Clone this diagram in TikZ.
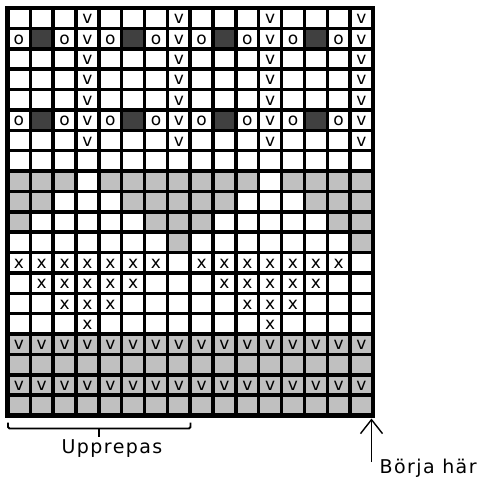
\documentclass[tikz,border=0pt]{standalone}
\usepackage{fontspec}
\setmainfont{DejaVu Sans}
\usetikzlibrary{arrows.meta}
\definecolor{lightg}{HTML}{C0C0C0}
\definecolor{darkg}{HTML}{404040}
\expandafter\def\csname ct-e\endcsname{}
\expandafter\def\csname ct-v\endcsname{v}
\expandafter\def\csname ct-o\endcsname{o}
\expandafter\def\csname ct-x\endcsname{x}
\expandafter\def\csname ct-d\endcsname{}
\expandafter\def\csname ct-g\endcsname{}
\expandafter\def\csname ct-gv\endcsname{v}
\tikzset{
  cell/.style={minimum width=22.84pt, minimum height=20.375pt, inner sep=0pt,
    font=\fontsize{17}{17}\selectfont, draw=none},
  k-e/.style={fill=white}, k-v/.style={fill=white}, k-o/.style={fill=white},
  k-x/.style={fill=white}, k-d/.style={fill=darkg}, k-g/.style={fill=lightg},
  k-gv/.style={fill=lightg},
  gridline/.style={line width=3.5pt, black},
  outerline/.style={line width=4.5pt, black},
  bracket/.style={line width=1.8pt, rounded corners=1.5pt},
  label/.style={font=\fontsize{19}{19}\selectfont\addfontfeature{LetterSpace=7.5}, inner sep=0pt},
  startarrow/.style={line width=1.4pt, -{Straight Barb[length=14pt,width=22pt,line width=1.4pt]}}
}
\begin{document}
\begin{tikzpicture}[x=1pt,y=-1pt]
\useasboundingbox (0,0) rectangle (482,479);
\begin{scope}[shift={(7.5,8)}, x=22.84pt, y=-20.375pt]
  \foreach \r/\row in {
    1/{e,e,e,v,e,e,e,v},
    2/{o,d,o,v,o,d,o,v},
    3/{e,e,e,v,e,e,e,v},
    4/{e,e,e,v,e,e,e,v},
    5/{e,e,e,v,e,e,e,v},
    6/{o,d,o,v,o,d,o,v},
    7/{e,e,e,v,e,e,e,v},
    8/{e,e,e,e,e,e,e,e},
    9/{g,g,g,e,g,g,g,g},
    10/{g,g,e,e,e,g,g,g},
    11/{g,e,e,e,e,e,g,g},
    12/{e,e,e,e,e,e,e,g},
    13/{x,x,x,x,x,x,x,e},
    14/{e,x,x,x,x,x,e,e},
    15/{e,e,x,x,x,e,e,e},
    16/{e,e,e,x,e,e,e,e},
    17/{gv,gv,gv,gv,gv,gv,gv,gv},
    18/{g,g,g,g,g,g,g,g},
    19/{gv,gv,gv,gv,gv,gv,gv,gv},
    20/{g,g,g,g,g,g,g,g}} {
    \foreach \s [count=\c] in \row {
      \foreach \h in {0,8} {
        \pgfmathtruncatemacro\cc{\c+\h}
        \node[cell, k-\s] (n\r-\cc) at (\cc-0.5,\r-0.45) {\csname ct-\s\endcsname};
      }
    }
  }
  \foreach \i in {1,...,15} \draw[gridline] (\i,0) -- (\i,20);
  \foreach \j in {1,...,19} \draw[gridline] (0,\j) -- (16,\j);
  \draw[outerline] (0,0) rectangle (16,20);
\end{scope}
% bracket
\coordinate (bl) at (8,422.5);
\coordinate (br) at (190.5,422.5);
\coordinate (bm) at (99,428.5);
\draw[bracket] (bl) -- (8,428.5) -- (190.5,428.5) -- (br);
\draw[line width=1.8pt] (bm) -- (99,436.5);
\node[label, anchor=base] (rep) at (112,453) {Upprepas};
% start arrow
\coordinate (as) at (371.5,462);
\coordinate (at) at (371.5,418.5);
\draw[startarrow] (as) -- (at);
\node[label, anchor=base west] (start) at (379.5,473) {Börja här};
\end{tikzpicture}
\end{document}
